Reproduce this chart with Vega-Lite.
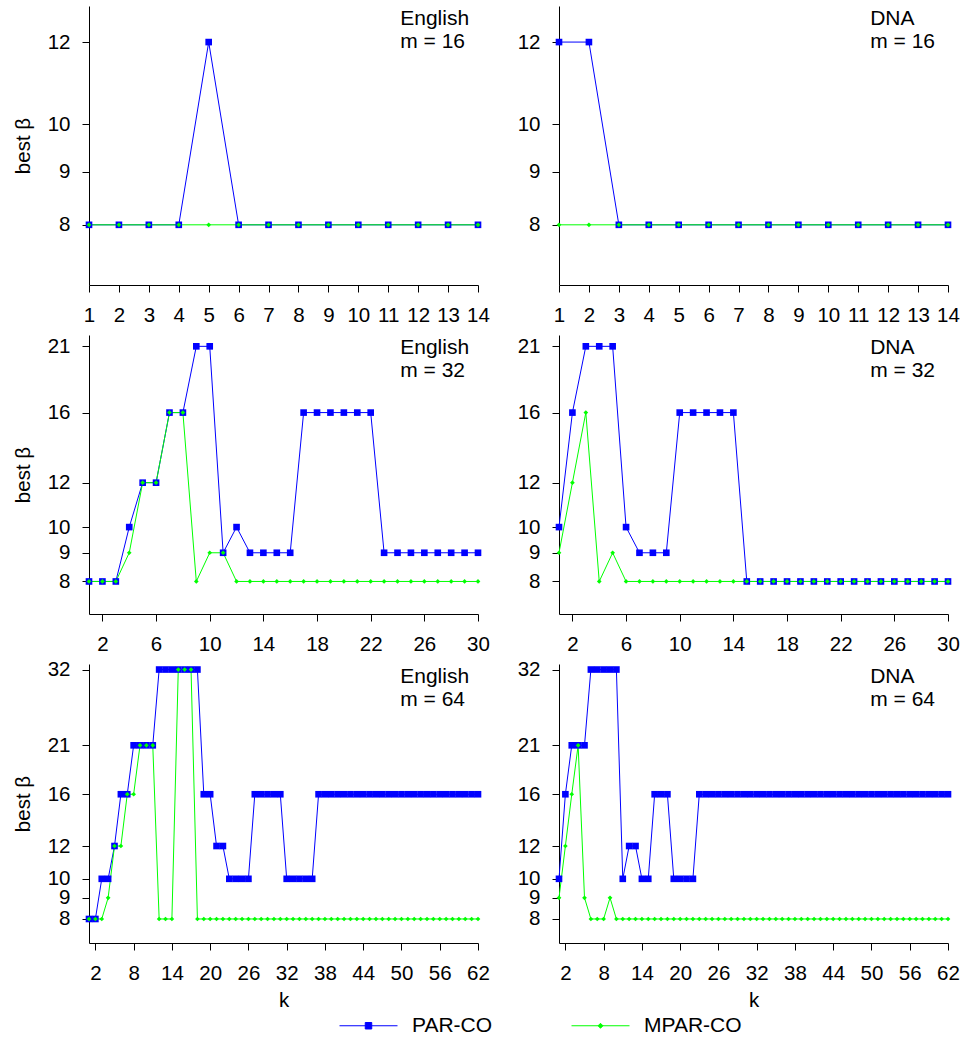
{
"$schema":"https://vega.github.io/schema/vega-lite/v6.json",
"padding":{"left":13,"top":6,"right":0,"bottom":0},
"background":"white",
"datasets":{"d":[
{"p":"E16","k":1,"PAR-CO":8,"MPAR-CO":8},{"p":"E16","k":2,"PAR-CO":8,"MPAR-CO":8},{"p":"E16","k":3,"PAR-CO":8,"MPAR-CO":8},{"p":"E16","k":4,"PAR-CO":8,"MPAR-CO":8},{"p":"E16","k":5,"PAR-CO":12,"MPAR-CO":8},{"p":"E16","k":6,"PAR-CO":8,"MPAR-CO":8},{"p":"E16","k":7,"PAR-CO":8,"MPAR-CO":8},{"p":"E16","k":8,"PAR-CO":8,"MPAR-CO":8},{"p":"E16","k":9,"PAR-CO":8,"MPAR-CO":8},{"p":"E16","k":10,"PAR-CO":8,"MPAR-CO":8},{"p":"E16","k":11,"PAR-CO":8,"MPAR-CO":8},{"p":"E16","k":12,"PAR-CO":8,"MPAR-CO":8},{"p":"E16","k":13,"PAR-CO":8,"MPAR-CO":8},{"p":"E16","k":14,"PAR-CO":8,"MPAR-CO":8},
{"p":"D16","k":1,"PAR-CO":12,"MPAR-CO":8},{"p":"D16","k":2,"PAR-CO":12,"MPAR-CO":8},{"p":"D16","k":3,"PAR-CO":8,"MPAR-CO":8},{"p":"D16","k":4,"PAR-CO":8,"MPAR-CO":8},{"p":"D16","k":5,"PAR-CO":8,"MPAR-CO":8},{"p":"D16","k":6,"PAR-CO":8,"MPAR-CO":8},{"p":"D16","k":7,"PAR-CO":8,"MPAR-CO":8},{"p":"D16","k":8,"PAR-CO":8,"MPAR-CO":8},{"p":"D16","k":9,"PAR-CO":8,"MPAR-CO":8},{"p":"D16","k":10,"PAR-CO":8,"MPAR-CO":8},{"p":"D16","k":11,"PAR-CO":8,"MPAR-CO":8},{"p":"D16","k":12,"PAR-CO":8,"MPAR-CO":8},{"p":"D16","k":13,"PAR-CO":8,"MPAR-CO":8},{"p":"D16","k":14,"PAR-CO":8,"MPAR-CO":8},
{"p":"E32","k":1,"PAR-CO":8,"MPAR-CO":8},{"p":"E32","k":2,"PAR-CO":8,"MPAR-CO":8},{"p":"E32","k":3,"PAR-CO":8,"MPAR-CO":8},{"p":"E32","k":4,"PAR-CO":10,"MPAR-CO":9},{"p":"E32","k":5,"PAR-CO":12,"MPAR-CO":12},{"p":"E32","k":6,"PAR-CO":12,"MPAR-CO":12},{"p":"E32","k":7,"PAR-CO":16,"MPAR-CO":16},{"p":"E32","k":8,"PAR-CO":16,"MPAR-CO":16},{"p":"E32","k":9,"PAR-CO":21,"MPAR-CO":8},{"p":"E32","k":10,"PAR-CO":21,"MPAR-CO":9},{"p":"E32","k":11,"PAR-CO":9,"MPAR-CO":9},{"p":"E32","k":12,"PAR-CO":10,"MPAR-CO":8},{"p":"E32","k":13,"PAR-CO":9,"MPAR-CO":8},{"p":"E32","k":14,"PAR-CO":9,"MPAR-CO":8},{"p":"E32","k":15,"PAR-CO":9,"MPAR-CO":8},{"p":"E32","k":16,"PAR-CO":9,"MPAR-CO":8},{"p":"E32","k":17,"PAR-CO":16,"MPAR-CO":8},{"p":"E32","k":18,"PAR-CO":16,"MPAR-CO":8},{"p":"E32","k":19,"PAR-CO":16,"MPAR-CO":8},{"p":"E32","k":20,"PAR-CO":16,"MPAR-CO":8},{"p":"E32","k":21,"PAR-CO":16,"MPAR-CO":8},{"p":"E32","k":22,"PAR-CO":16,"MPAR-CO":8},{"p":"E32","k":23,"PAR-CO":9,"MPAR-CO":8},{"p":"E32","k":24,"PAR-CO":9,"MPAR-CO":8},{"p":"E32","k":25,"PAR-CO":9,"MPAR-CO":8},{"p":"E32","k":26,"PAR-CO":9,"MPAR-CO":8},{"p":"E32","k":27,"PAR-CO":9,"MPAR-CO":8},{"p":"E32","k":28,"PAR-CO":9,"MPAR-CO":8},{"p":"E32","k":29,"PAR-CO":9,"MPAR-CO":8},{"p":"E32","k":30,"PAR-CO":9,"MPAR-CO":8},
{"p":"D32","k":1,"PAR-CO":10,"MPAR-CO":9},{"p":"D32","k":2,"PAR-CO":16,"MPAR-CO":12},{"p":"D32","k":3,"PAR-CO":21,"MPAR-CO":16},{"p":"D32","k":4,"PAR-CO":21,"MPAR-CO":8},{"p":"D32","k":5,"PAR-CO":21,"MPAR-CO":9},{"p":"D32","k":6,"PAR-CO":10,"MPAR-CO":8},{"p":"D32","k":7,"PAR-CO":9,"MPAR-CO":8},{"p":"D32","k":8,"PAR-CO":9,"MPAR-CO":8},{"p":"D32","k":9,"PAR-CO":9,"MPAR-CO":8},{"p":"D32","k":10,"PAR-CO":16,"MPAR-CO":8},{"p":"D32","k":11,"PAR-CO":16,"MPAR-CO":8},{"p":"D32","k":12,"PAR-CO":16,"MPAR-CO":8},{"p":"D32","k":13,"PAR-CO":16,"MPAR-CO":8},{"p":"D32","k":14,"PAR-CO":16,"MPAR-CO":8},{"p":"D32","k":15,"PAR-CO":8,"MPAR-CO":8},{"p":"D32","k":16,"PAR-CO":8,"MPAR-CO":8},{"p":"D32","k":17,"PAR-CO":8,"MPAR-CO":8},{"p":"D32","k":18,"PAR-CO":8,"MPAR-CO":8},{"p":"D32","k":19,"PAR-CO":8,"MPAR-CO":8},{"p":"D32","k":20,"PAR-CO":8,"MPAR-CO":8},{"p":"D32","k":21,"PAR-CO":8,"MPAR-CO":8},{"p":"D32","k":22,"PAR-CO":8,"MPAR-CO":8},{"p":"D32","k":23,"PAR-CO":8,"MPAR-CO":8},{"p":"D32","k":24,"PAR-CO":8,"MPAR-CO":8},{"p":"D32","k":25,"PAR-CO":8,"MPAR-CO":8},{"p":"D32","k":26,"PAR-CO":8,"MPAR-CO":8},{"p":"D32","k":27,"PAR-CO":8,"MPAR-CO":8},{"p":"D32","k":28,"PAR-CO":8,"MPAR-CO":8},{"p":"D32","k":29,"PAR-CO":8,"MPAR-CO":8},{"p":"D32","k":30,"PAR-CO":8,"MPAR-CO":8},
{"p":"E64","k":1,"PAR-CO":8,"MPAR-CO":8},{"p":"E64","k":2,"PAR-CO":8,"MPAR-CO":8},{"p":"E64","k":3,"PAR-CO":10,"MPAR-CO":8},{"p":"E64","k":4,"PAR-CO":10,"MPAR-CO":9},{"p":"E64","k":5,"PAR-CO":12,"MPAR-CO":12},{"p":"E64","k":6,"PAR-CO":16,"MPAR-CO":12},{"p":"E64","k":7,"PAR-CO":16,"MPAR-CO":16},{"p":"E64","k":8,"PAR-CO":21,"MPAR-CO":16},{"p":"E64","k":9,"PAR-CO":21,"MPAR-CO":21},{"p":"E64","k":10,"PAR-CO":21,"MPAR-CO":21},{"p":"E64","k":11,"PAR-CO":21,"MPAR-CO":21},{"p":"E64","k":12,"PAR-CO":32,"MPAR-CO":8},{"p":"E64","k":13,"PAR-CO":32,"MPAR-CO":8},{"p":"E64","k":14,"PAR-CO":32,"MPAR-CO":8},{"p":"E64","k":15,"PAR-CO":32,"MPAR-CO":32},{"p":"E64","k":16,"PAR-CO":32,"MPAR-CO":32},{"p":"E64","k":17,"PAR-CO":32,"MPAR-CO":32},{"p":"E64","k":18,"PAR-CO":32,"MPAR-CO":8},{"p":"E64","k":19,"PAR-CO":16,"MPAR-CO":8},{"p":"E64","k":20,"PAR-CO":16,"MPAR-CO":8},{"p":"E64","k":21,"PAR-CO":12,"MPAR-CO":8},{"p":"E64","k":22,"PAR-CO":12,"MPAR-CO":8},{"p":"E64","k":23,"PAR-CO":10,"MPAR-CO":8},{"p":"E64","k":24,"PAR-CO":10,"MPAR-CO":8},{"p":"E64","k":25,"PAR-CO":10,"MPAR-CO":8},{"p":"E64","k":26,"PAR-CO":10,"MPAR-CO":8},{"p":"E64","k":27,"PAR-CO":16,"MPAR-CO":8},{"p":"E64","k":28,"PAR-CO":16,"MPAR-CO":8},{"p":"E64","k":29,"PAR-CO":16,"MPAR-CO":8},{"p":"E64","k":30,"PAR-CO":16,"MPAR-CO":8},{"p":"E64","k":31,"PAR-CO":16,"MPAR-CO":8},{"p":"E64","k":32,"PAR-CO":10,"MPAR-CO":8},{"p":"E64","k":33,"PAR-CO":10,"MPAR-CO":8},{"p":"E64","k":34,"PAR-CO":10,"MPAR-CO":8},{"p":"E64","k":35,"PAR-CO":10,"MPAR-CO":8},{"p":"E64","k":36,"PAR-CO":10,"MPAR-CO":8},{"p":"E64","k":37,"PAR-CO":16,"MPAR-CO":8},{"p":"E64","k":38,"PAR-CO":16,"MPAR-CO":8},{"p":"E64","k":39,"PAR-CO":16,"MPAR-CO":8},{"p":"E64","k":40,"PAR-CO":16,"MPAR-CO":8},{"p":"E64","k":41,"PAR-CO":16,"MPAR-CO":8},{"p":"E64","k":42,"PAR-CO":16,"MPAR-CO":8},{"p":"E64","k":43,"PAR-CO":16,"MPAR-CO":8},{"p":"E64","k":44,"PAR-CO":16,"MPAR-CO":8},{"p":"E64","k":45,"PAR-CO":16,"MPAR-CO":8},{"p":"E64","k":46,"PAR-CO":16,"MPAR-CO":8},{"p":"E64","k":47,"PAR-CO":16,"MPAR-CO":8},{"p":"E64","k":48,"PAR-CO":16,"MPAR-CO":8},{"p":"E64","k":49,"PAR-CO":16,"MPAR-CO":8},{"p":"E64","k":50,"PAR-CO":16,"MPAR-CO":8},{"p":"E64","k":51,"PAR-CO":16,"MPAR-CO":8},{"p":"E64","k":52,"PAR-CO":16,"MPAR-CO":8},{"p":"E64","k":53,"PAR-CO":16,"MPAR-CO":8},{"p":"E64","k":54,"PAR-CO":16,"MPAR-CO":8},{"p":"E64","k":55,"PAR-CO":16,"MPAR-CO":8},{"p":"E64","k":56,"PAR-CO":16,"MPAR-CO":8},{"p":"E64","k":57,"PAR-CO":16,"MPAR-CO":8},{"p":"E64","k":58,"PAR-CO":16,"MPAR-CO":8},{"p":"E64","k":59,"PAR-CO":16,"MPAR-CO":8},{"p":"E64","k":60,"PAR-CO":16,"MPAR-CO":8},{"p":"E64","k":61,"PAR-CO":16,"MPAR-CO":8},{"p":"E64","k":62,"PAR-CO":16,"MPAR-CO":8},
{"p":"D64","k":1,"PAR-CO":10,"MPAR-CO":9},{"p":"D64","k":2,"PAR-CO":16,"MPAR-CO":12},{"p":"D64","k":3,"PAR-CO":21,"MPAR-CO":16},{"p":"D64","k":4,"PAR-CO":21,"MPAR-CO":21},{"p":"D64","k":5,"PAR-CO":21,"MPAR-CO":9},{"p":"D64","k":6,"PAR-CO":32,"MPAR-CO":8},{"p":"D64","k":7,"PAR-CO":32,"MPAR-CO":8},{"p":"D64","k":8,"PAR-CO":32,"MPAR-CO":8},{"p":"D64","k":9,"PAR-CO":32,"MPAR-CO":9},{"p":"D64","k":10,"PAR-CO":32,"MPAR-CO":8},{"p":"D64","k":11,"PAR-CO":10,"MPAR-CO":8},{"p":"D64","k":12,"PAR-CO":12,"MPAR-CO":8},{"p":"D64","k":13,"PAR-CO":12,"MPAR-CO":8},{"p":"D64","k":14,"PAR-CO":10,"MPAR-CO":8},{"p":"D64","k":15,"PAR-CO":10,"MPAR-CO":8},{"p":"D64","k":16,"PAR-CO":16,"MPAR-CO":8},{"p":"D64","k":17,"PAR-CO":16,"MPAR-CO":8},{"p":"D64","k":18,"PAR-CO":16,"MPAR-CO":8},{"p":"D64","k":19,"PAR-CO":10,"MPAR-CO":8},{"p":"D64","k":20,"PAR-CO":10,"MPAR-CO":8},{"p":"D64","k":21,"PAR-CO":10,"MPAR-CO":8},{"p":"D64","k":22,"PAR-CO":10,"MPAR-CO":8},{"p":"D64","k":23,"PAR-CO":16,"MPAR-CO":8},{"p":"D64","k":24,"PAR-CO":16,"MPAR-CO":8},{"p":"D64","k":25,"PAR-CO":16,"MPAR-CO":8},{"p":"D64","k":26,"PAR-CO":16,"MPAR-CO":8},{"p":"D64","k":27,"PAR-CO":16,"MPAR-CO":8},{"p":"D64","k":28,"PAR-CO":16,"MPAR-CO":8},{"p":"D64","k":29,"PAR-CO":16,"MPAR-CO":8},{"p":"D64","k":30,"PAR-CO":16,"MPAR-CO":8},{"p":"D64","k":31,"PAR-CO":16,"MPAR-CO":8},{"p":"D64","k":32,"PAR-CO":16,"MPAR-CO":8},{"p":"D64","k":33,"PAR-CO":16,"MPAR-CO":8},{"p":"D64","k":34,"PAR-CO":16,"MPAR-CO":8},{"p":"D64","k":35,"PAR-CO":16,"MPAR-CO":8},{"p":"D64","k":36,"PAR-CO":16,"MPAR-CO":8},{"p":"D64","k":37,"PAR-CO":16,"MPAR-CO":8},{"p":"D64","k":38,"PAR-CO":16,"MPAR-CO":8},{"p":"D64","k":39,"PAR-CO":16,"MPAR-CO":8},{"p":"D64","k":40,"PAR-CO":16,"MPAR-CO":8},{"p":"D64","k":41,"PAR-CO":16,"MPAR-CO":8},{"p":"D64","k":42,"PAR-CO":16,"MPAR-CO":8},{"p":"D64","k":43,"PAR-CO":16,"MPAR-CO":8},{"p":"D64","k":44,"PAR-CO":16,"MPAR-CO":8},{"p":"D64","k":45,"PAR-CO":16,"MPAR-CO":8},{"p":"D64","k":46,"PAR-CO":16,"MPAR-CO":8},{"p":"D64","k":47,"PAR-CO":16,"MPAR-CO":8},{"p":"D64","k":48,"PAR-CO":16,"MPAR-CO":8},{"p":"D64","k":49,"PAR-CO":16,"MPAR-CO":8},{"p":"D64","k":50,"PAR-CO":16,"MPAR-CO":8},{"p":"D64","k":51,"PAR-CO":16,"MPAR-CO":8},{"p":"D64","k":52,"PAR-CO":16,"MPAR-CO":8},{"p":"D64","k":53,"PAR-CO":16,"MPAR-CO":8},{"p":"D64","k":54,"PAR-CO":16,"MPAR-CO":8},{"p":"D64","k":55,"PAR-CO":16,"MPAR-CO":8},{"p":"D64","k":56,"PAR-CO":16,"MPAR-CO":8},{"p":"D64","k":57,"PAR-CO":16,"MPAR-CO":8},{"p":"D64","k":58,"PAR-CO":16,"MPAR-CO":8},{"p":"D64","k":59,"PAR-CO":16,"MPAR-CO":8},{"p":"D64","k":60,"PAR-CO":16,"MPAR-CO":8},{"p":"D64","k":61,"PAR-CO":16,"MPAR-CO":8},{"p":"D64","k":62,"PAR-CO":16,"MPAR-CO":8}
]},
"columns":2,
"spacing":{"row":50,"column":81},
"bounds":"flush",
"concat":[
{"width":389,"height":279,"data":{"name":"d"},
 "transform":[{"filter":"datum.p==='E16'"},{"fold":["PAR-CO","MPAR-CO"],"as":["method","beta"]}],
 "encoding":{"x":{"field":"k","type":"quantitative","scale":{"domain":[1,14],"nice":false,"zero":false},"axis":{"values":[1,2,3,4,5,6,7,8,9,10,11,12,13,14],"title":null}},
  "y":{"field":"beta","type":"quantitative","scale":{"type":"log","domain":[7,13],"nice":false},"axis":{"values":[8,9,10,12],"title":"best β"}}},
 "layer":[
  {"mark":{"type":"line","strokeWidth":1},"encoding":{"color":{"field":"method","type":"nominal","scale":{"domain":["PAR-CO","MPAR-CO"],"range":["#0000ff","#00ff00"]},
    "legend":{"orient":"none","legendX":250,"legendY":990,"direction":"horizontal","title":null,"padding":0,"symbolSize":3364,"symbolStrokeWidth":1,"labelFontSize":21,"labelOffset":14,"columnPadding":76,"labelColor":"#000000","labelFont":"Liberation Sans",
     "encode":{"symbols":{"update":{"shape":{"signal":"datum.value === 'PAR-CO' ? 'M-1,0H1M-0.112,-0.112H0.112V0.112H-0.112Z' : 'M-1,0H1M0,-0.085L0.085,0L0,0.085L-0.085,0Z'"},"fill":{"signal":"datum.value === 'PAR-CO' ? '#0000ff' : '#00ff00'"},"stroke":{"signal":"datum.value === 'PAR-CO' ? '#0000ff' : '#00ff00'"},"strokeWidth":{"value":1},"opacity":{"value":1},"size":{"value":3364}}}}}}}},
  {"transform":[{"filter":"datum.method==='PAR-CO'"}],"mark":{"type":"point","shape":"square","filled":true,"size":44,"color":"#0000ff","opacity":1}},
  {"transform":[{"filter":"datum.method==='MPAR-CO'"}],"mark":{"type":"point","shape":"diamond","filled":true,"size":22,"color":"#00ff00","opacity":1}},
  {"transform":[{"filter":"datum.k===1 && datum.method==='PAR-CO'"}],"mark":{"type":"text","text":["English","m = 16"],"align":"left","baseline":"top","dy":2,"fontSize":21,"lineHeight":22.5,"color":"#000000"},"encoding":{"x":{"datum":11.4},"y":{"datum":13}}}
 ]},
{"width":389,"height":279,"data":{"name":"d"},
 "transform":[{"filter":"datum.p==='D16'"},{"fold":["PAR-CO","MPAR-CO"],"as":["method","beta"]}],
 "encoding":{"x":{"field":"k","type":"quantitative","scale":{"domain":[1,14],"nice":false,"zero":false},"axis":{"values":[1,2,3,4,5,6,7,8,9,10,11,12,13,14],"title":null}},
  "y":{"field":"beta","type":"quantitative","scale":{"type":"log","domain":[7,13],"nice":false},"axis":{"values":[8,9,10,12],"title":null}}},
 "layer":[
  {"mark":{"type":"line","strokeWidth":1},"encoding":{"color":{"field":"method","type":"nominal","scale":{"domain":["PAR-CO","MPAR-CO"],"range":["#0000ff","#00ff00"]},"legend":null}}},
  {"transform":[{"filter":"datum.method==='PAR-CO'"}],"mark":{"type":"point","shape":"square","filled":true,"size":44,"color":"#0000ff","opacity":1}},
  {"transform":[{"filter":"datum.method==='MPAR-CO'"}],"mark":{"type":"point","shape":"diamond","filled":true,"size":22,"color":"#00ff00","opacity":1}},
  {"transform":[{"filter":"datum.k===1 && datum.method==='PAR-CO'"}],"mark":{"type":"text","text":["DNA","m = 16"],"align":"left","baseline":"top","dy":2,"fontSize":21,"lineHeight":22.5,"color":"#000000"},"encoding":{"x":{"datum":11.4},"y":{"datum":13}}}
 ]},
{"width":389,"height":279,"data":{"name":"d"},
 "transform":[{"filter":"datum.p==='E32'"},{"fold":["PAR-CO","MPAR-CO"],"as":["method","beta"]}],
 "encoding":{"x":{"field":"k","type":"quantitative","scale":{"domain":[1,30],"nice":false,"zero":false},"axis":{"values":[2,6,10,14,18,22,26,30],"title":null}},
  "y":{"field":"beta","type":"quantitative","scale":{"type":"log","domain":[7,22],"nice":false},"axis":{"values":[8,9,10,12,16,21],"title":"best β"}}},
 "layer":[
  {"mark":{"type":"line","strokeWidth":1},"encoding":{"color":{"field":"method","type":"nominal","scale":{"domain":["PAR-CO","MPAR-CO"],"range":["#0000ff","#00ff00"]},"legend":null}}},
  {"transform":[{"filter":"datum.method==='PAR-CO'"}],"mark":{"type":"point","shape":"square","filled":true,"size":44,"color":"#0000ff","opacity":1}},
  {"transform":[{"filter":"datum.method==='MPAR-CO'"}],"mark":{"type":"point","shape":"diamond","filled":true,"size":22,"color":"#00ff00","opacity":1}},
  {"transform":[{"filter":"datum.k===1 && datum.method==='PAR-CO'"}],"mark":{"type":"text","text":["English","m = 32"],"align":"left","baseline":"top","dy":2,"fontSize":21,"lineHeight":22.5,"color":"#000000"},"encoding":{"x":{"datum":24.2},"y":{"datum":22}}}
 ]},
{"width":389,"height":279,"data":{"name":"d"},
 "transform":[{"filter":"datum.p==='D32'"},{"fold":["PAR-CO","MPAR-CO"],"as":["method","beta"]}],
 "encoding":{"x":{"field":"k","type":"quantitative","scale":{"domain":[1,30],"nice":false,"zero":false},"axis":{"values":[2,6,10,14,18,22,26,30],"title":null}},
  "y":{"field":"beta","type":"quantitative","scale":{"type":"log","domain":[7,22],"nice":false},"axis":{"values":[8,9,10,12,16,21],"title":null}}},
 "layer":[
  {"mark":{"type":"line","strokeWidth":1},"encoding":{"color":{"field":"method","type":"nominal","scale":{"domain":["PAR-CO","MPAR-CO"],"range":["#0000ff","#00ff00"]},"legend":null}}},
  {"transform":[{"filter":"datum.method==='PAR-CO'"}],"mark":{"type":"point","shape":"square","filled":true,"size":44,"color":"#0000ff","opacity":1}},
  {"transform":[{"filter":"datum.method==='MPAR-CO'"}],"mark":{"type":"point","shape":"diamond","filled":true,"size":22,"color":"#00ff00","opacity":1}},
  {"transform":[{"filter":"datum.k===1 && datum.method==='PAR-CO'"}],"mark":{"type":"text","text":["DNA","m = 32"],"align":"left","baseline":"top","dy":2,"fontSize":21,"lineHeight":22.5,"color":"#000000"},"encoding":{"x":{"datum":24.2},"y":{"datum":22}}}
 ]},
{"width":389,"height":279,"data":{"name":"d"},
 "transform":[{"filter":"datum.p==='E64'"},{"fold":["PAR-CO","MPAR-CO"],"as":["method","beta"]}],
 "encoding":{"x":{"field":"k","type":"quantitative","scale":{"domain":[1,62],"nice":false,"zero":false},"axis":{"values":[2,8,14,20,26,32,38,44,50,56,62],"title":"k"}},
  "y":{"field":"beta","type":"quantitative","scale":{"type":"log","domain":[7,33],"nice":false},"axis":{"values":[8,9,10,12,16,21,32],"title":"best β"}}},
 "layer":[
  {"mark":{"type":"line","strokeWidth":1},"encoding":{"color":{"field":"method","type":"nominal","scale":{"domain":["PAR-CO","MPAR-CO"],"range":["#0000ff","#00ff00"]},"legend":null}}},
  {"transform":[{"filter":"datum.method==='PAR-CO'"}],"mark":{"type":"point","shape":"square","filled":true,"size":44,"color":"#0000ff","opacity":1}},
  {"transform":[{"filter":"datum.method==='MPAR-CO'"}],"mark":{"type":"point","shape":"diamond","filled":true,"size":22,"color":"#00ff00","opacity":1}},
  {"transform":[{"filter":"datum.k===1 && datum.method==='PAR-CO'"}],"mark":{"type":"text","text":["English","m = 64"],"align":"left","baseline":"top","dy":2,"fontSize":21,"lineHeight":22.5,"color":"#000000"},"encoding":{"x":{"datum":49.8},"y":{"datum":33}}}
 ]},
{"width":389,"height":279,"data":{"name":"d"},
 "transform":[{"filter":"datum.p==='D64'"},{"fold":["PAR-CO","MPAR-CO"],"as":["method","beta"]}],
 "encoding":{"x":{"field":"k","type":"quantitative","scale":{"domain":[1,62],"nice":false,"zero":false},"axis":{"values":[2,8,14,20,26,32,38,44,50,56,62],"title":"k"}},
  "y":{"field":"beta","type":"quantitative","scale":{"type":"log","domain":[7,33],"nice":false},"axis":{"values":[8,9,10,12,16,21,32],"title":null}}},
 "layer":[
  {"mark":{"type":"line","strokeWidth":1},"encoding":{"color":{"field":"method","type":"nominal","scale":{"domain":["PAR-CO","MPAR-CO"],"range":["#0000ff","#00ff00"]},"legend":null}}},
  {"transform":[{"filter":"datum.method==='PAR-CO'"}],"mark":{"type":"point","shape":"square","filled":true,"size":44,"color":"#0000ff","opacity":1}},
  {"transform":[{"filter":"datum.method==='MPAR-CO'"}],"mark":{"type":"point","shape":"diamond","filled":true,"size":22,"color":"#00ff00","opacity":1}},
  {"transform":[{"filter":"datum.k===1 && datum.method==='PAR-CO'"}],"mark":{"type":"text","text":["DNA","m = 64"],"align":"left","baseline":"top","dy":2,"fontSize":21,"lineHeight":22.5,"color":"#000000"},"encoding":{"x":{"datum":49.8},"y":{"datum":33}}}
 ]}
],
"config":{
 "view":{"stroke":null},
 "font":"Liberation Sans",
 "axis":{"grid":false,"domainColor":"#000000","domainWidth":1,"tickColor":"#000000","tickWidth":1,"tickSize":7,"labelColor":"#000000","titleColor":"#000000","labelFont":"Liberation Sans","titleFont":"Liberation Sans","labelFontSize":20.5,"titleFontSize":20.5,"titleFontWeight":"normal","labelFlush":false,"labelOverlap":false,"labelBound":false},
 "axisX":{"labelPadding":13,"titlePadding":7},
 "axisY":{"labelPadding":12,"titlePadding":14}
}
}
